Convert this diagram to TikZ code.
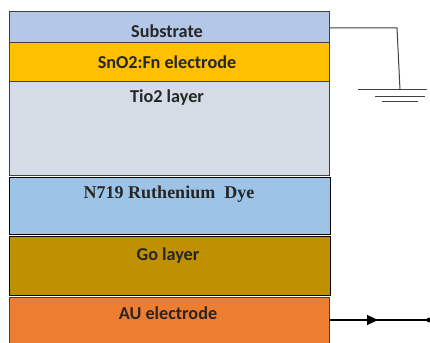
\documentclass[tikz,border=0pt]{standalone}
\usepackage{fontspec}
\setmainfont{Carlito}
\newfontfamily\serifbold{Liberation Serif}
\usetikzlibrary{arrows.meta}
\definecolor{cSub}{HTML}{B4C7E7}
\definecolor{cSn}{HTML}{FFC000}
\definecolor{cTi}{HTML}{D6DCE5}
\definecolor{cDye}{HTML}{9DC3E6}
\definecolor{cGo}{HTML}{BF9000}
\definecolor{cAu}{HTML}{ED7D31}
\definecolor{cEdge}{HTML}{404040}
\definecolor{cTxt}{HTML}{262626}
\begin{document}
\begin{tikzpicture}[x=1pt,y=-1pt,
  layerbox/.style={draw=cEdge, line width=1pt, minimum width=320pt, anchor=north west, inner sep=0pt},
  darkbox/.style={layerbox, draw=black, line width=1.4pt},
  lbl/.style={font=\bfseries\fontsize{18.2}{19}\selectfont, text=cTxt, inner sep=0pt},
  wire/.style={draw=cEdge, line width=1pt}]
\useasboundingbox (0,0) rectangle (430,342);
\fill[white] (0,0) rectangle (430,342);
% layers
\node[layerbox, fill=cSub, minimum height=31pt] (sub) at (9,11) {};
\node[layerbox, fill=cSn, minimum height=39pt] (sn) at (9,42) {};
\node[layerbox, fill=cTi, minimum height=94pt] (ti) at (9,81) {};
\node[darkbox, fill=cDye, minimum height=57pt, minimum width=321pt] (dye) at (9,177) {};
\node[darkbox, fill=cGo, minimum height=59pt, minimum width=321pt] (go) at (9,236) {};
\node[layerbox, fill=cAu, minimum height=60pt] (au) at (9,297) {};
% labels
\node[lbl] (tsub) at (167,31) {Substrate};
\node[lbl] (tsn) at (167,62) {SnO2:Fn electrode};
\node[lbl] (tti) at (167,98) {Tio2 layer};
\node[font=\serifbold\bfseries\fontsize{18}{19}\selectfont, text=cTxt, inner sep=0pt] (tdye) at (169,194) {N719 Ruthenium\ \ Dye};
\node[lbl] (tgo) at (168,256) {Go layer};
\node[lbl] (tau) at (168,313) {AU electrode};
% ground connection
\coordinate (w0) at (329,28);
\coordinate (w1) at (397,28);
\coordinate (w2) at (400,90);
\coordinate (ga) at (358,90);
\coordinate (gb) at (427,90);
\coordinate (gc) at (375,96);
\coordinate (gd) at (425,96);
\coordinate (ge) at (382,101);
\coordinate (gf) at (418,101);
\draw[wire] (w0) -- (w1) -- (w2);
\draw[wire] (ga) -- (gb);
\draw[wire] (gc) -- (gd);
\draw[wire] (ge) -- (gf);
% output connection
\coordinate (a0) at (329,320);
\coordinate (am) at (378,320);
\coordinate (a1) at (429,320);
\draw[line width=1.1pt] (a0) -- (a1);
\draw[line width=1.1pt, -{Triangle[length=11pt,width=10pt]}] (a0) -- (am);
\fill (a1) circle (2.4pt);
\end{tikzpicture}
\end{document}
